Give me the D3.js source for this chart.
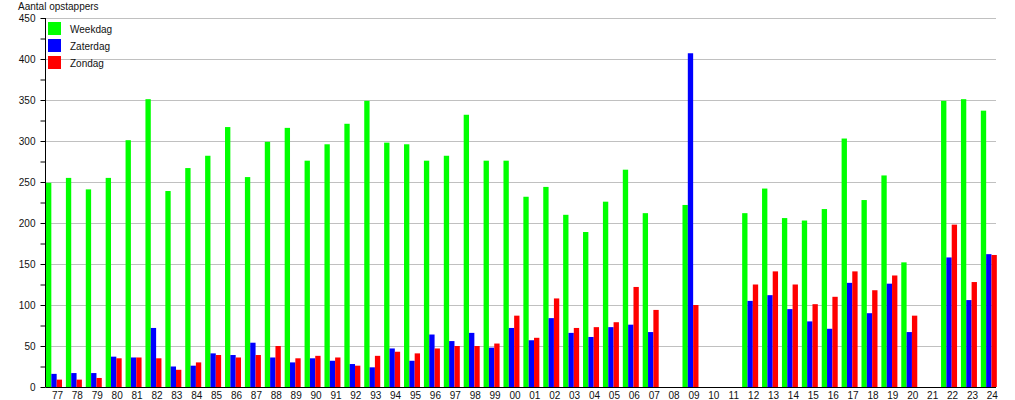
<!DOCTYPE html>
<html><head><meta charset="utf-8">
<script src="https://cdn.jsdelivr.net/npm/d3@7"></script>
<style>
body{margin:0;background:#fff;}
text{font-family:"Liberation Sans",Arial,sans-serif;}
</style>
</head><body>
<svg id="c" width="1015" height="400"></svg>
<script>
const categories = ["77","78","79","80","81","82","83","84","85","86","87","88","89","90","91","92","93","94","95","96","97","98","99","00","01","02","03","04","05","06","07","08","09","10","11","12","13","14","15","16","17","18","19","20","21","22","23","24"];
const weekdag = [249,255,241,255,301,351,239,267,282,317,256,299,316,276,296,321,349,298,296,276,282,332,276,276,232,244,210,189,226,265,212,null,222,null,null,212,242,206,203,217,303,228,258,152,null,349,351,337];
const zaterdag = [16,17,17,37,36,72,25,26,41,39,54,36,30,35,32,28,24,47,32,64,56,66,48,72,57,84,66,61,73,76,67,null,407,null,null,105,112,95,80,71,127,90,126,67,null,158,106,162];
const zondag = [9,9,11,35,36,35,21,30,39,36,39,50,35,38,36,26,38,43,41,47,50,50,53,87,60,108,72,73,79,122,94,null,100,null,null,125,141,125,101,110,141,118,136,87,null,198,128,161];
const seriesNames = ["Weekdag","Zaterdag","Zondag"];
const seriesColors = ["#00ff00","#0000ff","#ff0000"];
const yTicks = d3.range(0, 451, 25);
const yTitle = "Aantal opstappers";

(function(){
const series = [weekdag, zaterdag, zondag];
const svg = d3.select("#c");
const mLeft = 46, mRight = 996, mTop = 18, mBottom = 387;
const step = 19.89;
const x = d3.scaleBand().domain(categories).range([mLeft, mLeft + step * categories.length]).padding(0);
const xs = d3.scaleBand().domain(seriesNames).range([0, 16]).padding(0);
const y = d3.scaleLinear().domain([0, 450]).range([mBottom, mTop]);

// gridlines
svg.append("g").selectAll("line").data(d3.range(50, 451, 50)).join("line")
  .attr("x1", mLeft).attr("x2", mRight)
  .attr("y1", d => Math.round(y(d)) + 0.5).attr("y2", d => Math.round(y(d)) + 0.5)
  .attr("stroke", "#c0c0c0").attr("stroke-width", 1);

// bars
series.forEach((vals, si) => {
  svg.append("g").selectAll("rect")
    .data(vals.map((v, i) => ({c: categories[i], v})).filter(d => d.v != null))
    .join("rect")
    .attr("x", d => x(d.c) + xs(seriesNames[si]))
    .attr("width", xs.bandwidth())
    .attr("y", d => y(d.v))
    .attr("height", d => y(0) - y(d.v))
    .attr("fill", seriesColors[si]);
});

// y axis
const yAxis = d3.axisLeft(y).tickValues(yTicks).tickSize(5).tickPadding(5)
  .tickFormat(d => d % 50 === 0 ? d : "");
const gy = svg.append("g").attr("transform", `translate(${mLeft - 0.5},0)`).call(yAxis);
gy.select(".domain").attr("d", `M0,${mTop}V${mBottom}`).attr("stroke", "#000");
gy.selectAll(".tick line").attr("stroke", "#000");
gy.selectAll("text").attr("font-size", 10).attr("fill", "#111").attr("font-family", "Liberation Sans, Arial, sans-serif");

// x axis line
svg.append("line").attr("x1", mLeft - 0.5).attr("x2", mRight).attr("y1", mBottom + 0.5).attr("y2", mBottom + 0.5)
  .attr("stroke", "#000");
// x labels
svg.append("g").selectAll("text").data(categories).join("text")
  .attr("x", d => x(d) + 11.5).attr("y", 399)
  .attr("text-anchor", "middle").attr("font-size", 10).attr("fill", "#111")
  .text(d => d);

// title
svg.append("text").attr("x", 18).attr("y", 10).attr("font-size", 10).attr("fill", "#111").text(yTitle);

// legend
const lg = svg.append("g");
seriesNames.forEach((n, i) => {
  lg.append("rect").attr("x", 48).attr("y", 22 + i * 17).attr("width", 13).attr("height", 13).attr("fill", seriesColors[i]);
  lg.append("text").attr("x", 70).attr("y", 33 + i * 17).attr("font-size", 10).attr("fill", "#111").text(n);
});
})();
</script>
</body></html>
